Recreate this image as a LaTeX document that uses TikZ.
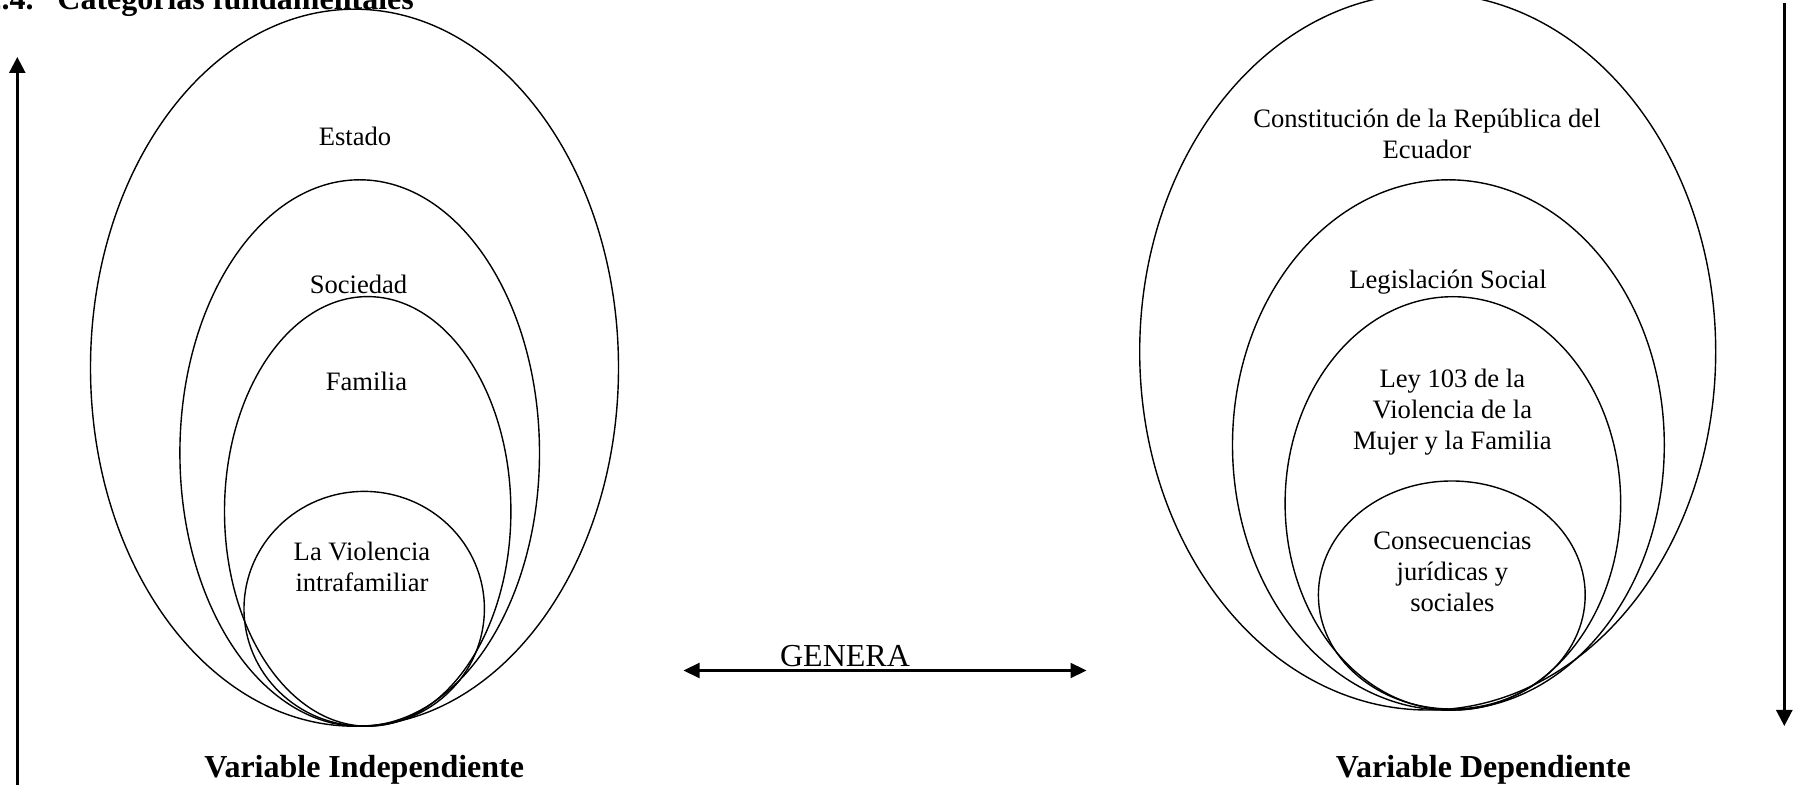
\documentclass[tikz,border=0pt]{standalone}
\usepackage{fontspec}
\setmainfont{Liberation Serif}
\usetikzlibrary{shapes.geometric,arrows.meta}
\begin{document}
\begin{tikzpicture}[x=0.5pt,y=-0.5pt,
  oval/.style={draw,ellipse,inner sep=0pt,line width=0.7pt},
  txt/.style={inner sep=0pt,align=center,font=\fontsize{13.3}{15.5}\selectfont},
  lbl/.style={inner sep=0pt,font=\fontsize{16}{19}\selectfont\bfseries},
  arr/.style={line width=1.3pt,-{Triangle[length=8pt,width=8pt]}},
  darr/.style={line width=1.1pt,{Triangle[length=8pt,width=7.5pt]}-{Triangle[length=8pt,width=7.5pt]}}]
\useasboundingbox (0,0) rectangle (1796,785);
% title (clipped at top)
\node[lbl,anchor=base east] (num) at (34,10) {2.4.};
\node[lbl,anchor=base west] (title) at (57,10) {Categorías fundamentales};
% left group
\node[oval,minimum width=264pt,minimum height=358.5pt] (estado) at (354.5,367.7) {};
\node[oval,minimum width=179.8pt,minimum height=273.2pt] (sociedad) at (359.7,453) {};
\node[oval,minimum width=143.2pt,minimum height=214.8pt] (familia) at (367.7,511.4) {};
\node[oval,minimum width=120.2pt,minimum height=117.4pt] (violencia) at (364.2,608.8) {};
\node[txt] (tEstado) at (355,136.3) {Estado};
\node[txt] (tSociedad) at (358.5,284) {Sociedad};
\node[txt] (tFamilia) at (366.5,381.4) {Familia};
\node[txt] (tViolencia) at (362,566.5) {La Violencia\\intrafamiliar};
% right group
\node[oval,minimum width=288pt,minimum height=358.4pt] (constitucion) at (1427.7,351.6) {};
\node[oval,minimum width=215.9pt,minimum height=265.2pt] (legislacion) at (1448.4,445) {};
\node[oval,minimum width=167.8pt,minimum height=206.7pt] (ley) at (1452.9,503.4) {};
\node[oval,minimum width=133.4pt,minimum height=114pt] (consecuencias) at (1451.8,595) {};
\node[txt] (tConst) at (1427,134) {Constitución de la República del\\Ecuador};
\node[txt] (tLeg) at (1448,281.7) {Legislación Social};
\node[txt] (tLey) at (1452.4,412.4) {Ley 103 de la\\Violencia de la\\Mujer y la Familia};
\node[txt] (tCons) at (1452.4,571.5) {Consecuencias\\jurídicas y\\sociales};
% GENERA
\node[inner sep=0pt,font=\fontsize{16}{19}\selectfont] (genera) at (845,656) {GENERA};
\coordinate (gL) at (683.5,670.5);
\coordinate (gR) at (1086.5,670.5);
\draw[darr] (gL) -- (gR);
% vertical arrows
\coordinate (lB) at (17.3,790);
\coordinate (lT) at (17.3,57);
\draw[arr] (lB) -- (lT);
\coordinate (rT) at (1784.3,3);
\coordinate (rB) at (1784.3,726);
\draw[arr] (rT) -- (rB);
% labels
\node[lbl] (vi) at (364.2,769.5) {Variable Independiente};
\node[lbl] (vd) at (1483.3,769.5) {Variable Dependiente};
\end{tikzpicture}
\end{document}
